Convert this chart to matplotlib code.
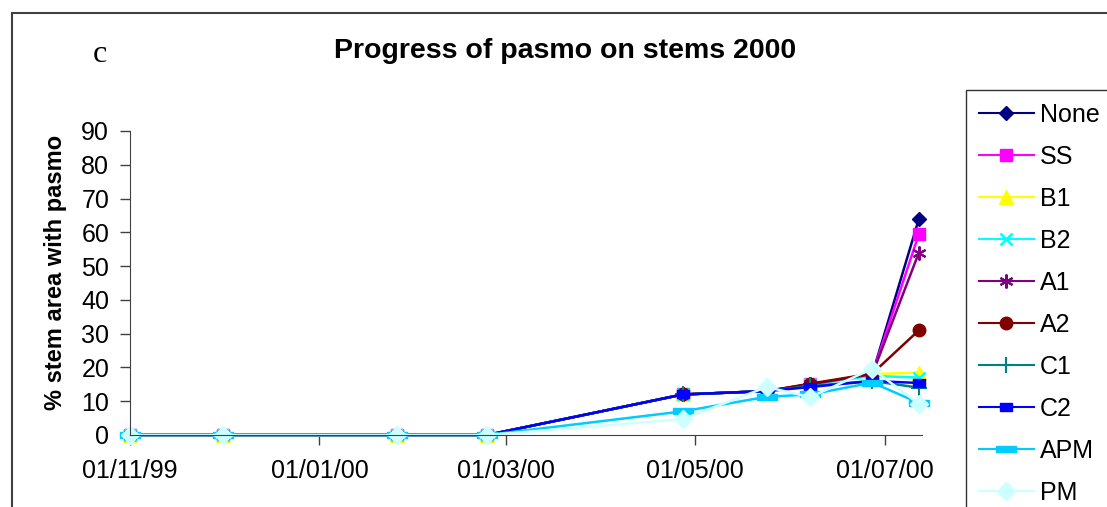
import datetime as dt
import matplotlib
matplotlib.use("Agg")
import matplotlib.pyplot as plt
import matplotlib.dates as mdates
from matplotlib.patches import Rectangle

plt.rcParams['font.family'] = ['Liberation Sans', 'DejaVu Sans']

# sampling dates and % stem area with pasmo for each treatment
dates = [dt.date(1999, 11, 1), dt.date(1999, 12, 1), dt.date(2000, 1, 26),
         dt.date(2000, 2, 24), dt.date(2000, 4, 27), dt.date(2000, 5, 24),
         dt.date(2000, 6, 7), dt.date(2000, 6, 27), dt.date(2000, 7, 12)]

none_vals = [0, 0, 0, 0, 12, 13, 15, 18, 64]
ss_vals = [0, 0, 0, 0, 12, 13, 15, 18, 59.5]
b1_vals = [0, 0, 0, 0, 12, 13, 15, 18, 18.5]
b2_vals = [0, 0, 0, 0, 12, 13, 15, 17.5, 17]
a1_vals = [0, 0, 0, 0, 12, 13, 15, 18, 54]
a2_vals = [0, 0, 0, 0, 12, 13, 15.2, 18.2, 31]
c1_vals = [0, 0, 0, 0, 12, 13, 14.5, 16, 14]
c2_vals = [0, 0, 0, 0, 12, 13, 14.2, 16, 15.4]
apm_vals = [0, 0, 0, 0, 7, 11.3, 12, 15.5, 9.5]
pm_vals = [0, 0, 0, 0, 4.7, 14.2, 11.2, 19.6, 9.2]

labels = ['None', 'SS', 'B1', 'B2', 'A1', 'A2', 'C1', 'C2', 'APM', 'PM']
series = [none_vals, ss_vals, b1_vals, b2_vals, a1_vals, a2_vals,
          c1_vals, c2_vals, apm_vals, pm_vals]

# excel-ish marker styles
dash = [(-1, -0.35), (1, -0.35), (1, 0.35), (-1, 0.35), (-1, -0.35)]
short_dash = [(-1, -0.6), (1, -0.6), (1, 0.6), (-1, 0.6), (-1, -0.6)]
styles = [
    dict(color='#000080', marker='D', ms=7),
    dict(color='#FF00FF', marker='s', ms=9),
    dict(color='#FFFF00', marker='^', ms=10),
    dict(color='#00FFFF', marker='x', ms=9, mew=1.8),
    dict(color='#800080', marker=(6, 2, 0), ms=10, mew=1.5),
    dict(color='#800000', marker='o', ms=9),
    dict(color='#008080', marker='+', ms=11, mew=1.5),
    dict(color='#0000FF', marker=short_dash, ms=9),
    dict(color='#00CCFF', marker=dash, ms=14),
    dict(color='#CCFFFF', marker='D', ms=9),
]

fig = plt.figure(figsize=(11.07, 5.07), dpi=100)
W, H = 1107, 507
ax = fig.add_axes([130 / W, (H - 435) / H, (922 - 130) / W, (435 - 131) / H])

for vals, lab, st in zip(series, labels, styles):
    ax.plot(dates, vals, label=lab, lw=1.8, clip_on=False, **st)

ax.set_ylim(0, 90)
ax.set_yticks(range(0, 91, 10))
ax.set_xlim(dt.date(1999, 11, 1), dt.date(2000, 7, 13))
ax.xaxis.set_major_locator(mdates.MonthLocator(bymonth=[1, 3, 5, 7, 9, 11]))
ax.xaxis.set_major_formatter(mdates.DateFormatter('%d/%m/%y'))
ax.tick_params(labelsize=18, length=7, width=1, color='#404040', pad=8)
ax.tick_params(axis='x', pad=10)
for side in ['top', 'right']:
    ax.spines[side].set_visible(False)
for side in ['left', 'bottom']:
    ax.spines[side].set_color('#404040')

ax.set_ylabel('% stem area with pasmo', fontsize=17, fontweight='bold')
ax.yaxis.set_label_coords(-0.08, 0.535)

fig.text(565 / W, 1 - 51 / H, 'Progress of pasmo on stems 2000', fontsize=20.5,
         fontweight='bold', ha='center', va='center')
fig.text(100 / W, 1 - 55 / H, 'c', fontsize=23, family='Liberation Serif',
         ha='center', va='center')

# chart border
fig.add_artist(Rectangle((12 / W, -0.1), 1.2, 1.1 - 13 / H, fill=False,
                         transform=fig.transFigure, ec='#404040', lw=1.5))

leg = ax.legend(loc='upper left', bbox_to_anchor=(966 / W, 1 - 90 / H),
                bbox_transform=fig.transFigure, fontsize=18, frameon=True,
                fancybox=False, edgecolor='black', handlelength=2.2,
                handletextpad=0.25, labelspacing=0.72, borderpad=0.5,
                borderaxespad=0)
leg.get_frame().set_linewidth(1.0)
for line in leg.get_lines():
    line.set_linewidth(1.5)

fig.savefig('out.png', dpi=100)
